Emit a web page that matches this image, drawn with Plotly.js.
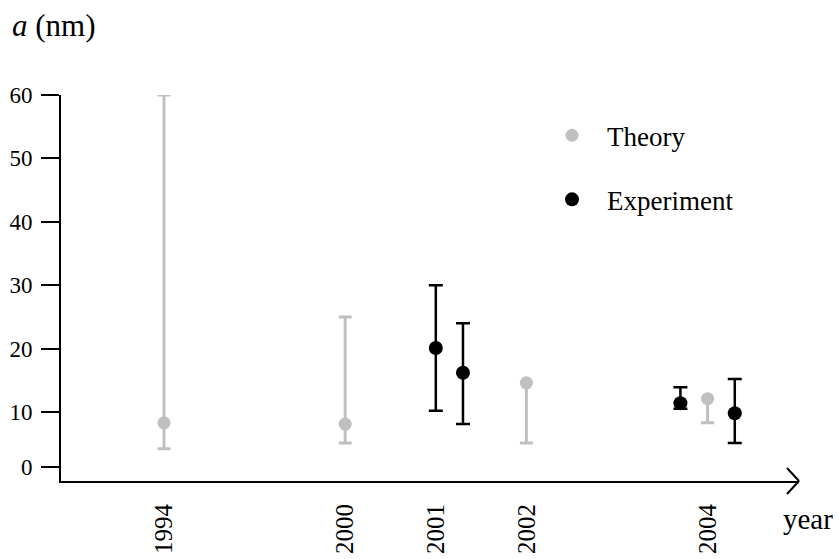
<!DOCTYPE html>
<html>
<head>
<meta charset="utf-8">
<script src="https://cdn.plot.ly/plotly-3.0.1.min.js"></script>
<style>html,body{margin:0;padding:0;background:#fff;}#chart{width:839px;height:559px;}</style>
</head>
<body>
<div id="chart"></div>
<script>
// Category positions on the (non-uniform) year axis and their labels
const yearPositions = [0, 2, 3, 4, 6];
const yearLabels = ["1994", "2000", "2001", "2002", "2004"];

// Theory: position, central value, upper and lower limits (nm)
const theoryX = [0, 2, 4, 6];
const theoryY = [8.3, 8.1, 14.6, 12.1];
const theoryHigh = [60, 25, 14.6, 12.1];
const theoryLow = [4.2, 5.1, 5.1, 8.3];

// Experiment: position, central value, upper and lower limits (nm)
const expX = [3, 3.3, 5.7, 6.3];
const expY = [20.1, 16.2, 11.4, 9.8];
const expHigh = [30, 24, 13.9, 15.2];
const expLow = [10.2, 8.1, 10.5, 5.1];

// y tick values and their labels (axis is compressed below 10)
const yTickVals = [1.3, 10, 20, 30, 40, 50, 60];
const yTickText = ["0", "10", "20", "30", "40", "50", "60"];

const FONT = "Liberation Serif, Times New Roman, serif";
const GRAY = "#c0c0c0";

const theory = {
  type: "scatter", mode: "markers", name: "Theory", legendgroup: "t",
  x: theoryX, y: theoryY,
  marker: {color: GRAY, size: 13},
  error_y: {type: "data", symmetric: false,
    array: theoryY.map((v, i) => theoryHigh[i] - v),
    arrayminus: theoryY.map((v, i) => v - theoryLow[i]),
    color: GRAY, thickness: 3, width: 6.5}
};
const experiment = {
  type: "scatter", mode: "markers", name: "Experiment", legendgroup: "e",
  x: expX, y: expY,
  marker: {color: "#000000", size: 14},
  error_y: {type: "data", symmetric: false,
    array: expY.map((v, i) => expHigh[i] - v),
    arrayminus: expY.map((v, i) => v - expLow[i]),
    color: "#000000", thickness: 2.5, width: 7}
};

const layout = {
  width: 839, height: 559,
  margin: {l: 61, r: 40, t: 95, b: 78},
  paper_bgcolor: "#fff", plot_bgcolor: "#fff",
  font: {family: FONT, color: "#000"},
  showlegend: true,
  legend: {x: 0.645, xanchor: "left", y: 0.958, yanchor: "top",
    font: {family: FONT, size: 27, color: "#000"},
    itemwidth: 60, tracegroupgap: 26, traceorder: "grouped",
    bgcolor: "rgba(0,0,0,0)"},
  xaxis: {range: [-1.137, 7.009], tickmode: "array",
    tickvals: yearPositions, ticktext: yearLabels,
    tickangle: -90, ticks: "", showgrid: false, zeroline: false,
    showline: true, linecolor: "#000", linewidth: 2,
    tickfont: {family: FONT, size: 25, color: "#000"},
    ticklabelstandoff: 11},
  yaxis: {range: [-0.883, 60], tickmode: "array",
    tickvals: yTickVals, ticktext: yTickText,
    ticks: "outside", ticklen: 18, tickwidth: 2, tickcolor: "#000",
    showgrid: false, zeroline: false,
    showline: true, linecolor: "#000", linewidth: 2,
    tickfont: {family: FONT, size: 23, color: "#000"},
    ticklabelstandoff: 4},
  shapes: [
    {type: "line", xref: "paper", yref: "paper", xsizemode: "pixel", ysizemode: "pixel",
     xanchor: 1, yanchor: 0, x0: -12, y0: 13, x1: 0, y1: 0, line: {color: "#000", width: 2}},
    {type: "line", xref: "paper", yref: "paper", xsizemode: "pixel", ysizemode: "pixel",
     xanchor: 1, yanchor: 0, x0: -12, y0: -13, x1: 0, y1: 0, line: {color: "#000", width: 2}}
  ],
  annotations: [
    {text: "<i>a</i> (nm)", xref: "paper", yref: "paper", x: 0, y: 1,
     xanchor: "left", yanchor: "middle", xshift: -51, yshift: 70,
     showarrow: false, font: {family: FONT, size: 31, color: "#000"}},
    {text: "year", xref: "paper", yref: "paper", x: 1, y: 0,
     xanchor: "left", yanchor: "middle", xshift: -18, yshift: -38,
     showarrow: false, font: {family: FONT, size: 29, color: "#000"}}
  ]
};

Plotly.newPlot("chart", [theory, experiment], layout, {displayModeBar: false, staticPlot: true});
</script>
</body>
</html>
